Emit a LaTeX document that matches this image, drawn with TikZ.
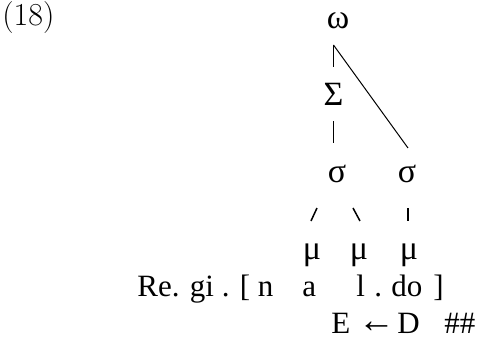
\documentclass[tikz,border=0pt]{standalone}
\usepackage{fontspec}
\newfontfamily\tnr{Liberation Serif}
\usetikzlibrary{calc}

\begin{document}
\begin{tikzpicture}[x=0.5pt,y=-0.5pt,
	txt/.style={inner sep=0pt, anchor=base, font=\tnr\fontsize{17}{19}\selectfont},
	seg/.style={inner sep=0pt, anchor=base west, font=\tnr\fontsize{15.5}{18}\selectfont},
	stem/.style={line width=0.85pt},
	slant/.style={line width=0.75pt},
	thin/.style={line width=0.5pt}]
	\useasboundingbox (0,0) rectangle (479,338);

	% The example number, set in the default serif
	\node[inner sep=0pt, anchor=base west, font=\fontsize{16}{19}\selectfont] (num) at (2,25) {(18)};

	% The prosodic tree: word, foot, two syllables and three moras
	\node[txt] (omega) at (338,28) {ω};
	\node[txt] (Sigma) at (333.5,105) {Σ};
	\node[txt] (sigL) at (337,182) {σ};
	\node[txt] (sigR) at (407,182) {σ};
	\node[txt] (muA) at (312,259) {μ};
	\node[txt] (muB) at (359,259) {μ};
	\node[txt] (muC) at (409,259) {μ};

	% The branches. The word node is joined to the foot by a short stem and to the
	% right syllable by a long diagonal; both leave from the same point under omega
	\coordinate (top) at ($(omega.base -| Sigma.base)+(0,17)$);
	\draw[stem] (top) -- ($(Sigma.base)+(0,-38)$);
	\draw[thin] (top) -- ($(sigR.base)+(1,-34)$);
	\draw[stem] ($(Sigma.base)+(0,16)$) -- ($(sigL.base -| Sigma.base)+(0,-39)$);
	\draw[slant] ($(sigL.base -| muA.base)+(5,26)$) -- ($(muA.base)+(-1,-38)$);
	\draw[slant] ($(sigL.base -| muB.base)+(-6,26)$) -- ($(muB.base)+(1,-38)$);
	\draw[stem] ($(sigR.base)+(1,26)$) -- ($(muC.base)+(-1,-38)$);

	% The segmental string under the moras
	\node[seg] (pre) at (137,297) {Re. gi . [ n};
	\node[seg] (a) at (302,297) {a};
	\node[seg] (l) at (356,297) {l};
	\node[seg] (dotB) at (374,297) {.};
	\node[seg] (do) at (391,297) {do};
	\node[seg] (rbr) at (433,297) {]};

	% The derivation line
	\node[seg] (E) at (331,334) {E};
	\node[inner sep=0pt, anchor=base, font=\tnr\bfseries\fontsize{16}{19}\selectfont] (arr) at (377,333) {\scalebox{1.15}[1.15]{←}};
	\node[seg] (D) at (397,334) {D};
	\node[seg] (hh) at (444,334) {\#\#};
\end{tikzpicture}
\end{document}
